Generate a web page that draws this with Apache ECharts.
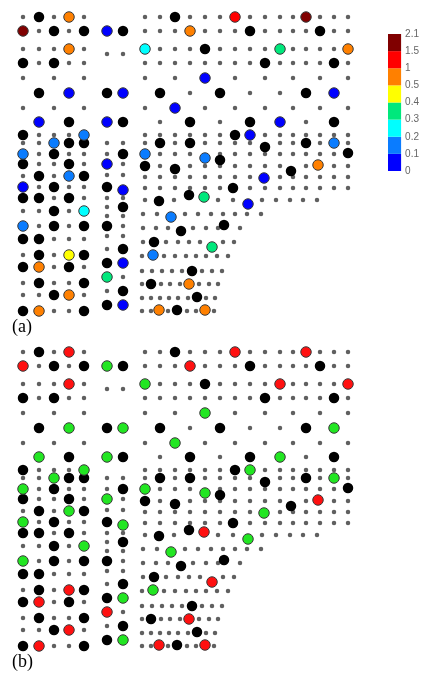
<!DOCTYPE html>
<html>
<head>
<meta charset="utf-8">
<script src="https://cdn.jsdelivr.net/npm/echarts@6/dist/echarts.min.js"></script>
<style>
  html, body { margin: 0; padding: 0; background: #fff; }
  #chart { width: 422px; height: 681px; }
</style>
</head>
<body>
<div id="chart"></div>
<script>
// node rows: [y, [x...]] (same layout in both panels)
const leftRows = [
  [17, [23, 39, 54, 69, 84]], [31, [23, 39, 54, 69, 84]], [49, [23, 39, 54, 69, 84]], [63, [23, 39, 54, 69, 84]],
  [78, [23, 54, 84]], [93, [39, 69]], [108, [23, 54, 84]], [122, [39, 69]],
  [135, [23, 39, 54, 69, 84]], [143, [23, 39, 54, 69, 84]], [154, [23, 39, 54, 69, 84]], [164, [23, 39, 54, 69, 84]],
  [176, [23, 39, 54, 69, 84]], [187, [23, 39, 54, 69, 84]], [198, [23, 39, 54, 69, 84]], [211, [23, 39, 54, 69, 84]],
  [226, [23, 39, 54, 69, 84]], [239, [23, 39, 54, 69, 84]], [255, [23, 39, 54, 69, 84]], [267, [23, 39, 54, 69, 84]],
  [283, [23, 39, 54, 69, 84]], [295, [23, 39, 54, 69, 84]], [311, [23, 39, 54, 69, 84]]
];
const midRows = [
  [31, [107, 123]], [54, [107, 123]], [93, [107, 123]], [122, [107, 123]],
  [143, [107, 123]], [154, [107, 123]], [164, [107, 123]], [175, [107, 123]], [187, [107, 123]],
  [198, [107, 123]], [207, [107, 123]], [216, [107, 123]], [226, [107, 123]], [236, [107, 123]],
  [249, [107, 123]], [263, [107, 123]], [277, [107, 123]], [291, [107, 123]], [305, [107, 123]]
];
const rightAll = [145, 160, 175, 190, 205, 220, 235, 250, 265, 280, 293, 306, 320, 334, 348];
const rightEven = [145, 175, 205, 235, 265, 293, 320, 348];
const rightOdd = [160, 190, 220, 250, 280, 306, 334];
const rightRows = [
  [17, rightAll], [31, rightAll], [49, rightAll], [63, rightAll],
  [78, rightEven], [93, rightOdd], [108, rightEven], [122, rightOdd],
  [135, rightAll], [143, rightAll], [154, rightAll],
  [166, rightAll], [177, rightAll], [188, rightAll],
  [200, [145, 159, 174, 189, 204, 218, 233, 248, 262, 276, 290, 303, 317]],
  [214, [143, 157, 171, 185, 198, 211, 223, 235, 247, 261]],
  [228, [143, 156, 168, 181, 193, 206, 218, 229, 240]],
  [242, [143, 154, 166, 178, 189, 200, 212, 223, 234]],
  [256, [142, 153, 164, 175, 186, 196, 206, 217, 228]],
  [271, [142, 152, 162, 172, 182, 192, 202, 212, 222]],
  [284, [142, 151, 161, 170, 180, 189, 199, 209, 218]],
  [298, [142, 151, 160, 169, 178, 188, 197, 206, 215]],
  [311, [142, 151, 159, 168, 177, 187, 196, 205, 214]]
];

// large black markers [x, y]
const blackPts = [
  [39, 17], [54, 31], [84, 31], [123, 31], [23, 63], [54, 63], [39, 93], [107, 93], [69, 122], [123, 122],
  [23, 135], [69, 143], [84, 143], [54, 154], [123, 154], [23, 164], [69, 164], [39, 176], [84, 176],
  [54, 187], [107, 187], [23, 198], [39, 198], [69, 198], [123, 207], [54, 211], [54, 226], [84, 226],
  [107, 226], [23, 239], [39, 239], [123, 249], [39, 255], [84, 255], [23, 267], [69, 267], [107, 263],
  [39, 283], [84, 283], [123, 291], [54, 295], [107, 305], [23, 311], [84, 311],
  [175, 17], [250, 31], [320, 31], [205, 49], [265, 63], [334, 63], [160, 93], [220, 93], [306, 93],
  [190, 122], [250, 122], [334, 122], [235, 135], [160, 143], [190, 143], [265, 147], [306, 143],
  [220, 160], [348, 153], [145, 166], [175, 169], [291, 171], [233, 188], [159, 201], [189, 195],
  [181, 231], [224, 225], [154, 242], [192, 271], [151, 284], [197, 297], [177, 310]
];
// large coloured markers [x, y, value]
const hotPts = [
  [69, 17, 0.75], [23, 31, 1.8], [107, 31, 0.05], [69, 49, 0.75], [69, 93, 0.05], [123, 93, 0.05],
  [39, 122, 0.05], [107, 122, 0.05], [84, 135, 0.15], [54, 143, 0.15], [23, 154, 0.15], [107, 164, 0.05],
  [69, 176, 0.15], [23, 187, 0.05], [123, 190, 0.05], [84, 211, 0.25], [23, 226, 0.15], [69, 255, 0.45],
  [123, 263, 0.05], [39, 267, 0.75], [107, 277, 0.35], [69, 295, 0.75], [39, 311, 0.75], [123, 305, 0.05],
  [235, 17, 1.25], [306, 17, 1.8], [190, 31, 0.75], [145, 49, 0.25], [280, 49, 0.35], [348, 49, 0.75],
  [205, 78, 0.05], [334, 93, 0.05], [175, 108, 0.05], [280, 122, 0.05], [250, 135, 0.05], [334, 143, 0.15],
  [145, 154, 0.15], [205, 158, 0.15], [318, 165, 0.75], [264, 178, 0.05], [204, 197, 0.35], [248, 204, 0.05],
  [171, 217, 0.15], [212, 247, 0.35], [153, 255, 0.15], [189, 284, 0.75], [159, 310, 0.75], [205, 310, 0.75]
];

// colour scale (a)
const cbBreaks = [0, 0.1, 0.2, 0.3, 0.4, 0.5, 1, 1.5, 2.1];
const cbLabels = ['0', '0.1', '0.2', '0.3', '0.4', '0.5', '1', '1.5', '2.1'];
const cbColors = ['#0000ff', '#0a7cff', '#00ffff', '#00e87c', '#ffff00', '#ff8000', '#ff0000', '#800000'];
// two-class scale (b)
const classBreak = 0.3;
const classColors = ['#22e622', '#ff1010'];

const expand = rows => rows.flatMap(([y, xs]) => xs.map(x => [x, y]));
const bigPts = blackPts.concat(hotPts.map(p => [p[0], p[1]]));
const nodes = expand(leftRows).concat(expand(midRows), expand(rightRows))
  .filter(n => !bigPts.some(b => Math.hypot(b[0] - n[0], b[1] - n[1]) < 6));

const chart = echarts.init(document.getElementById('chart'));

function panelSeries(idx) {
  return [
    { type: 'scatter', xAxisIndex: idx, yAxisIndex: idx, data: nodes, symbolSize: 4.5,
      itemStyle: { color: '#383838' }, silent: true, z: 2 },
    { type: 'scatter', xAxisIndex: idx, yAxisIndex: idx, data: blackPts, symbolSize: 10.5,
      itemStyle: { color: '#000', opacity: 1 }, silent: true, z: 3 },
    { type: 'scatter', xAxisIndex: idx, yAxisIndex: idx, data: hotPts, symbolSize: 10.5,
      itemStyle: { borderColor: '#3a3a3a', borderWidth: 1, opacity: 1 }, silent: true, z: 4 }
  ];
}

const hidden = { show: false };
const option = {
  animation: false,
  backgroundColor: '#fff',
  grid: [
    { left: 0, top: 0, width: 422, height: 340 },
    { left: 0, top: 335, width: 422, height: 340 },
    { left: 388, top: 34, width: 16, height: 137 }
  ],
  xAxis: [
    { type: 'value', gridIndex: 0, min: 0, max: 422, ...hidden },
    { type: 'value', gridIndex: 1, min: 0, max: 422, ...hidden },
    { type: 'category', gridIndex: 2, data: ['c'], show: false }
  ],
  yAxis: [
    { type: 'value', gridIndex: 0, min: 0, max: 340, inverse: true, ...hidden },
    { type: 'value', gridIndex: 1, min: 0, max: 340, inverse: true, ...hidden },
    { type: 'value', gridIndex: 2, min: 0, max: 8, interval: 1, position: 'right',
      axisLine: { show: false }, axisTick: { show: false }, splitLine: { show: false },
      axisLabel: { margin: 4, fontSize: 10, color: '#666', fontFamily: 'Liberation Sans',
        formatter: v => cbLabels[v] } }
  ],
  visualMap: [
    { type: 'piecewise', show: false, seriesIndex: 2, dimension: 2,
      pieces: cbColors.map((c, i) => ({ gte: cbBreaks[i], lt: cbBreaks[i + 1], color: c })) },
    { type: 'piecewise', show: false, seriesIndex: 5, dimension: 2,
      pieces: [{ gte: 0, lt: classBreak, color: classColors[0] }, { gte: classBreak, lte: 2.1, color: classColors[1] }] }
  ],
  graphic: [
    { type: 'text', left: 12, top: 318, style: { text: '(a)', font: '18px "Liberation Serif"', fill: '#000' } },
    { type: 'text', left: 12, top: 653, style: { text: '(b)', font: '18px "Liberation Serif"', fill: '#000' } }
  ],
  series: panelSeries(0).concat(panelSeries(1), cbColors.map(c => ({
    type: 'bar', xAxisIndex: 2, yAxisIndex: 2, stack: 'cb', data: [1], barWidth: '100%',
    itemStyle: { color: c }, silent: true
  })))
};

chart.setOption(option);
</script>
</body>
</html>
